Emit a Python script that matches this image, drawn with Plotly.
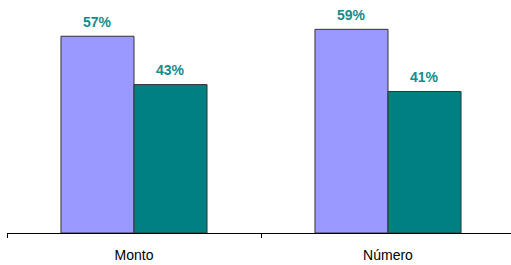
import plotly.graph_objects as go

categories = ["Monto", "Número"]
series_a = [57, 59]
series_b = [43, 41]
labels_a = ["57%", "59%"]
labels_b = ["43%", "41%"]

fig = go.Figure()
fig.add_trace(go.Bar(x=categories, y=series_a, marker=dict(color="#9999FF", line=dict(color="#333333", width=1)),
                     offsetgroup="a", showlegend=False, hoverinfo="skip"))
fig.add_trace(go.Bar(x=categories, y=series_b, marker=dict(color="#008080", line=dict(color="#333333", width=1)),
                     offsetgroup="b", showlegend=False, hoverinfo="skip"))

for i, c in enumerate(categories):
    fig.add_annotation(x=c, y=series_a[i], text="<b>%s</b>" % labels_a[i], xshift=-36.5, yshift=14.5,
                       showarrow=False, font=dict(family="Liberation Sans, Arial", size=14, color="#138C8C"))
    fig.add_annotation(x=c, y=series_b[i], text="<b>%s</b>" % labels_b[i], xshift=36.5, yshift=14.5,
                       showarrow=False, font=dict(family="Liberation Sans, Arial", size=14, color="#138C8C"))

fig.update_layout(
    width=511, height=265,
    margin=dict(l=7, r=0, t=0, b=32),
    paper_bgcolor="white", plot_bgcolor="white",
    barmode="group", bargap=0.425, bargroupgap=0,
    font=dict(family="Liberation Sans, Arial", size=14, color="black"),
)
fig.update_xaxes(type="category", range=[-0.5, -0.5 + 504 / 254], showline=True, linecolor="black", linewidth=1,
                 ticks="outside", tickson="boundaries", ticklen=4, tickcolor="black", showgrid=False,
                 tickfont=dict(size=14, color="black"), ticklabelstandoff=9)
fig.update_yaxes(range=[0, 67.5], visible=False, showgrid=False, zeroline=False)

fig.write_html("out.html", config={"displayModeBar": False, "staticPlot": True},
               post_script="document.body.style.margin='0';")
